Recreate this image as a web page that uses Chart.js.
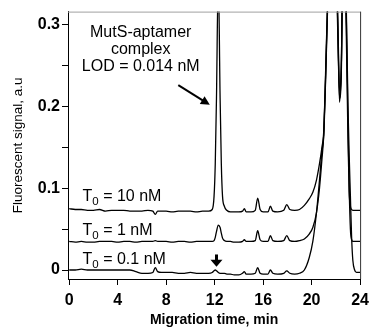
<!DOCTYPE html>
<html>
<head>
<meta charset="utf-8">
<script src="https://cdn.jsdelivr.net/npm/chart.js@4.4.0/dist/chart.umd.min.js"></script>
<style>
  html, body { margin: 0; padding: 0; background: #fff; }
  #wrap { width: 375px; height: 332px; }
</style>
</head>
<body>
<div id="wrap"><canvas id="ce_chart" width="375" height="332"></canvas></div>
<script>
// migration time (min), shared by all three traces
var timeMin = [
    0, 0.5, 1, 1.5, 2, 2.5, 3, 3.5, 4, 4.5, 5, 5.5, 6, 6.5, 6.9, 7.1, 7.3, 7.6, 8, 8.5, 9, 9.5, 10, 10.5, 11, 11.5,
    11.8, 11.95, 12.05, 12.15, 12.3, 12.45, 12.55, 12.65, 12.8, 13,
    13.3, 13.6, 14, 14.3, 14.45, 14.6, 15, 15.35, 15.55, 15.75,
    16, 16.4, 16.6, 16.8, 17.2, 17.7, 17.95, 18.2, 18.6, 19,
    19.4, 19.8, 20.1, 20.4, 20.65, 20.85, 21, 21.15, 21.3, 21.6,
    21.9, 22.1, 22.2, 22.3, 22.45, 22.6, 22.7, 22.85, 23, 23.1,
    23.2, 23.3, 23.4, 23.55, 23.7, 24
];

// fluorescent signal (a.u.)
var signal10nM = [
    0.075, 0.074, 0.074, 0.073, 0.073, 0.074, 0.072, 0.073, 0.073, 0.073, 0.072, 0.072, 0.072, 0.073, 0.072, 0.068, 0.072, 0.072, 0.072, 0.071, 0.072, 0.072, 0.072, 0.071, 0.072, 0.072,
    0.074, 0.09, 0.13, 0.21, 0.36, 0.21, 0.13, 0.09, 0.078, 0.073,
    0.071, 0.071, 0.071, 0.072, 0.075, 0.071, 0.071, 0.073, 0.088, 0.074,
    0.071, 0.071, 0.078, 0.072, 0.071, 0.073, 0.08, 0.074, 0.073, 0.074,
    0.079, 0.087, 0.095, 0.11, 0.13, 0.15, 0.17, 0.24, 0.32, 0.45,
    0.45, 0.33, 0.26, 0.22, 0.25, 0.4, 0.4, 0.3, 0.16, 0.095,
    0.078, 0.074, 0.073, 0.073, 0.073, 0.073
];
var signal1nM = [
    0.035, 0.034, 0.035, 0.034, 0.034, 0.035, 0.035, 0.035, 0.034, 0.035, 0.035, 0.034, 0.035, 0.035, 0.035, 0.036, 0.035, 0.035, 0.035, 0.034, 0.035, 0.035, 0.034, 0.035, 0.035, 0.035,
    0.035, 0.036, 0.04, 0.047, 0.055, 0.052, 0.045, 0.039, 0.036, 0.035,
    0.035, 0.034, 0.034, 0.035, 0.037, 0.035, 0.035, 0.036, 0.048, 0.037,
    0.035, 0.035, 0.042, 0.036, 0.035, 0.036, 0.042, 0.036, 0.035, 0.036,
    0.038, 0.044, 0.052, 0.07, 0.1, 0.135, 0.165, 0.235, 0.315, 0.45,
    0.45, 0.34, 0.27, 0.21, 0.24, 0.4, 0.4, 0.32, 0.18, 0.1,
    0.05, 0.037, 0.035, 0.035, 0.035, 0.035
];
var signal01nM = [
    0, 0, 0.001, 0, 0, 0, 0, 0, 0, 0, 0, -0.002, -0.004, -0.004, -0.003, 0.003, -0.002, -0.003, -0.003, -0.003, -0.004, -0.004, -0.003, -0.004, -0.004, -0.004,
    -0.003, -0.001, 0, -0.001, -0.003, -0.004, -0.004, -0.004, -0.004, -0.005,
    -0.005, -0.006, -0.006, -0.004, -0.002, -0.005, -0.005, -0.004, 0.003, -0.004,
    -0.005, -0.005, 0, -0.004, -0.005, -0.004, -0.001, -0.004, -0.005, -0.004,
    0, 0.015, 0.035, 0.07, 0.11, 0.145, 0.165, 0.23, 0.31, 0.45,
    0.45, 0.35, 0.28, 0.205, 0.25, 0.4, 0.4, 0.33, 0.2, 0.14,
    0.09, 0.04, 0.012, 0, -0.003, -0.003
];

var traceNames = ['10 nM', '1 nM', '0.1 nM'];
var traceLabelY = [0.0915, 0.049, 0.0146];   // where the "T0 = ..." labels sit
var noteText = ['MutS-aptamer', 'complex', 'LOD = 0.014 nM'];
var xTicks = [0, 4, 8, 12, 16, 20, 24];

var FONT = 'Arial, "Liberation Sans", Helvetica, sans-serif';

function toPoints(values) {
    return values.map(function(v, i) { return { x: timeMin[i], y: v }; });
}

function arrowHead(ctx, x1, y1, x2, y2, len, half) {
    var ang = Math.atan2(y2 - y1, x2 - x1);
    ctx.beginPath();
    ctx.moveTo(x2, y2);
    ctx.lineTo(x2 - len * Math.cos(ang) + half * Math.sin(ang), y2 - len * Math.sin(ang) - half * Math.cos(ang));
    ctx.lineTo(x2 - len * Math.cos(ang) - half * Math.sin(ang), y2 - len * Math.sin(ang) + half * Math.cos(ang));
    ctx.closePath();
    ctx.fill();
}

var notesPlugin = {
    id: 'notes',
    afterDraw: function(chart) {
        var ctx = chart.ctx;
        var xs = chart.scales.x, ys = chart.scales.y;
        var area = chart.chartArea;
        ctx.save();

        // top and right frame
        ctx.lineWidth = 1;
        ctx.strokeStyle = '#a0a0a0';
        ctx.beginPath();
        ctx.moveTo(area.left, area.top + 0.5);
        ctx.lineTo(area.right, area.top + 0.5);
        ctx.stroke();
        ctx.strokeStyle = '#333';
        ctx.beginPath();
        ctx.moveTo(area.right + 0.5, area.top);
        ctx.lineTo(area.right + 0.5, area.bottom);
        ctx.stroke();

        ctx.fillStyle = '#000';
        ctx.strokeStyle = '#000';

        // MutS-aptamer note
        ctx.font = '16px ' + FONT;
        ctx.textAlign = 'center';
        ctx.textBaseline = 'middle';
        var noteY = [0.29, 0.27, 0.249];
        noteText.forEach(function(t, i) {
            ctx.fillText(t, xs.getPixelForValue(5.9), ys.getPixelForValue(noteY[i]));
        });

        // diagonal arrow towards the complex peak
        var ax1 = xs.getPixelForValue(9.0), ay1 = ys.getPixelForValue(0.226);
        var ax2 = xs.getPixelForValue(11.6), ay2 = ys.getPixelForValue(0.202);
        ctx.lineWidth = 2;
        ctx.beginPath();
        ctx.moveTo(ax1, ay1);
        ctx.lineTo(ax2 - (ax2 - ax1) * 0.15, ay2 - (ay2 - ay1) * 0.15);
        ctx.stroke();
        arrowHead(ctx, ax1, ay1, ax2, ay2, 9, 4.5);

        // small down arrow at 12 min on the lowest trace
        var dx = xs.getPixelForValue(12.15);
        var dy1 = ys.getPixelForValue(0.019), dy2 = ys.getPixelForValue(0.004);
        ctx.lineWidth = 3;
        ctx.beginPath();
        ctx.moveTo(dx, dy1);
        ctx.lineTo(dx, dy2 - 5);
        ctx.stroke();
        arrowHead(ctx, dx, dy1, dx, dy2, 7, 6);

        // trace labels with subscript
        ctx.textAlign = 'left';
        ctx.textBaseline = 'alphabetic';
        traceNames.forEach(function(name, i) {
            var x = xs.getPixelForValue(1.1);
            var y = ys.getPixelForValue(traceLabelY[i]) + 5.5;
            ctx.font = '16px ' + FONT;
            ctx.fillText('T', x, y);
            x += ctx.measureText('T').width;
            ctx.font = '11.5px ' + FONT;
            ctx.fillText('0', x, y + 4);
            x += ctx.measureText('0').width;
            ctx.font = '16px ' + FONT;
            ctx.fillText(' = ' + name, x, y);
        });

        ctx.restore();
    }
};

var tickFont = { family: FONT, size: 16, weight: 'bold' };

var chartInstance = new Chart(document.getElementById('ce_chart').getContext('2d'), {
    type: 'line',
    data: {
        datasets: [signal10nM, signal1nM, signal01nM].map(function(vals, i) {
            return {
                label: traceNames[i],
                data: toPoints(vals),
                borderColor: '#000',
                borderWidth: 1.3,
                pointRadius: 0,
                cubicInterpolationMode: 'monotone',
                fill: false
            };
        })
    },
    options: {
        responsive: false,
        animation: false,
        layout: { padding: { top: 11, right: 11, left: 0, bottom: 0 } },
        plugins: {
            legend: { display: false },
            tooltip: { enabled: false }
        },
        scales: {
            x: {
                type: 'linear',
                min: -0.1,
                max: 24,
                afterFit: function(scale) { scale.height = 53; },
                afterBuildTicks: function(scale) {
                    scale.ticks = xTicks.map(function(v) { return { value: v }; });
                },
                ticks: {
                    color: '#000',
                    font: tickFont,
                    padding: 6,
                    maxRotation: 0,
                    autoSkip: false,
                    callback: function(v) { return String(v); }
                },
                grid: {
                    drawOnChartArea: false,
                    drawTicks: true,
                    tickLength: 6,
                    color: '#000'
                },
                border: { color: '#000', width: 1 },
                title: {
                    display: true,
                    text: 'Migration time, min',
                    color: '#000',
                    font: { family: FONT, size: 14, weight: 'bold' },
                    padding: { top: 0, bottom: 3 }
                }
            },
            y: {
                min: -0.011,
                max: 0.316,
                afterFit: function(scale) { scale.width = 68; },
                ticks: {
                    stepSize: 0.05,
                    includeBounds: false,
                    color: '#000',
                    font: tickFont,
                    padding: 2,
                    autoSkip: false,
                    callback: function(v) {
                        var t = Math.round(v * 100);
                        if (t % 10 !== 0) return '';
                        return t === 0 ? '0' : (t / 100).toFixed(1);
                    }
                },
                grid: {
                    drawOnChartArea: false,
                    drawTicks: true,
                    tickLength: 6,
                    color: '#000'
                },
                border: { color: '#000', width: 1 },
                title: {
                    display: true,
                    text: 'Fluorescent signal, a.u',
                    color: '#000',
                    font: { family: FONT, size: 13.5 },
                    padding: { top: 10, bottom: 0 }
                }
            }
        }
    },
    plugins: [notesPlugin]
});
</script>
</body>
</html>
